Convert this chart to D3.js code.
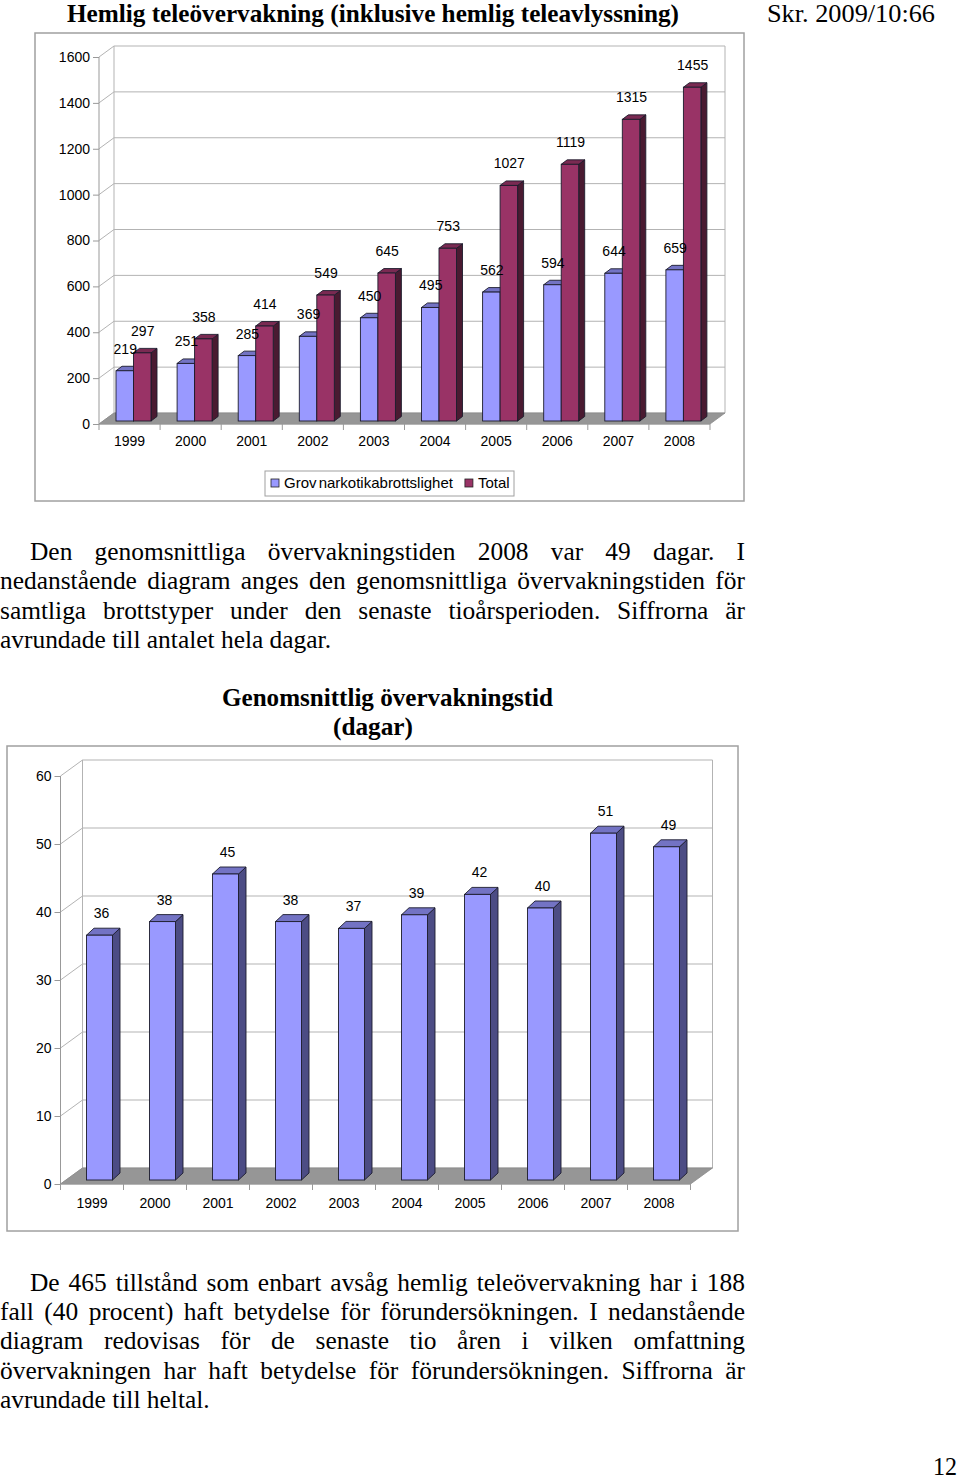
<!DOCTYPE html>
<html>
<head>
<meta charset="utf-8">
<script src="https://cdn.jsdelivr.net/npm/d3@7"></script>
<style>
  html, body { margin: 0; padding: 0; background: #fff; }
  svg { display: block; }
</style>
</head>
<body>
<svg id="page" width="960" height="1479"></svg>
<script>
// ---------- DATA ----------
const years = ["1999","2000","2001","2002","2003","2004","2005","2006","2007","2008"];
const grovValues = [219, 251, 285, 369, 450, 495, 562, 594, 644, 659];
const totalValues = [297, 358, 414, 549, 645, 753, 1027, 1119, 1315, 1455];
const ticks1 = [0, 200, 400, 600, 800, 1000, 1200, 1400, 1600];
const seriesNames = ["Grov narkotikabrottslighet", "Total"];
const daysValues = [36, 38, 45, 38, 37, 39, 42, 40, 51, 49];
const ticks2 = [0, 10, 20, 30, 40, 50, 60];

const headerTitle = "Hemlig teleövervakning (inklusive hemlig teleavlyssning)";
const headerRef = "Skr. 2009/10:66";
const para1 = [
  "Den genomsnittliga övervakningstiden 2008 var 49 dagar. I",
  "nedanstående diagram anges den genomsnittliga övervakningstiden för",
  "samtliga brottstyper under den senaste tioårsperioden. Siffrorna är",
  "avrundade till antalet hela dagar."
];
const chart2Title = ["Genomsnittlig övervakningstid", "(dagar)"];
const para2 = [
  "De 465 tillstånd som enbart avsåg hemlig teleövervakning har i 188",
  "fall (40 procent) haft betydelse för förundersökningen. I nedanstående",
  "diagram redovisas för de senaste tio åren i vilken omfattning",
  "övervakningen har haft betydelse för förundersökningen. Siffrorna är",
  "avrundade till heltal."
];
const pageNumber = "12";

// ---------- STYLE ----------
const SERIF = "'Liberation Serif','Times New Roman',serif";
const SANS = "'Liberation Sans',Arial,sans-serif";
const blue = {face: "#9999ff", top: "#7373c4", side: "#4c4c84"};
const red = {face: "#993366", top: "#7a2a52", side: "#4a1a31"};
const gridColor = "#b3b3b3";
const floorColor = "#969696";

const svg = d3.select("#page");

// ---------- TEXT HELPERS ----------
function measure(text, size, weight) {
  const t = svg.append("text").attr("font-family", SERIF).attr("font-size", size)
    .attr("font-weight", weight).text(text);
  const w = t.node().getComputedTextLength();
  t.remove();
  return w;
}
const PSIZE = 25;
// horizontal condensation factor taken from the last (non-justified) line of paragraph 1
const sx = 331 / measure(para1[3], PSIZE, "normal");

function textLine(str, x0, x1, baseline, justify, size, weight) {
  const words = str.split(" ");
  const widths = words.map(w => measure(w, size, weight) * sx);
  const total = d3.sum(widths);
  const space = measure("a b", size, weight) - measure("ab", size, weight);
  const gap = justify && words.length > 1 ? (x1 - x0 - total) / (words.length - 1) : space * sx;
  let x = x0;
  words.forEach((w, i) => {
    svg.append("text").attr("x", x).attr("y", baseline)
      .attr("font-family", SERIF).attr("font-size", size).attr("font-weight", weight)
      .attr("textLength", widths[i]).attr("lengthAdjust", "spacingAndGlyphs")
      .attr("fill", "#000").text(w);
    x += widths[i] + gap;
  });
}
function fitText(str, x0, width, baseline, size, weight) {
  svg.append("text").attr("x", x0).attr("y", baseline)
    .attr("font-family", SERIF).attr("font-size", size).attr("font-weight", weight)
    .attr("textLength", width).attr("lengthAdjust", "spacingAndGlyphs").text(str);
}

// ---------- HEADER ----------
fitText(headerTitle, 67, 612, 22, 25, "bold");
fitText(headerRef, 767, 168, 22, 25, "normal");

// ---------- PARAGRAPHS ----------
para1.forEach((l, i) => textLine(l, i === 0 ? 30 : 0, 745, 560 + i * 29.4, i < para1.length - 1, PSIZE, "normal"));
para2.forEach((l, i) => textLine(l, i === 0 ? 30 : 0, 745, 1291 + i * 29.2, i < para2.length - 1, PSIZE, "normal"));
fitText(pageNumber, 933, 24, 1475, PSIZE, "normal");
fitText(chart2Title[0], 222, 331, 706, 25, "bold");
fitText(chart2Title[1], 333, 80, 735, 25, "bold");

// ---------- 3D BAR ----------
function bar3d(g, x, yTop, yBase, w, ddx, ddy, c) {
  const st = "#1c1c2c";
  g.append("polygon")
    .attr("points", [[x + w, yTop], [x + w + ddx, yTop + ddy], [x + w + ddx, yBase + ddy], [x + w, yBase]].join(" "))
    .attr("fill", c.side).attr("stroke", st).attr("stroke-width", 0.9).attr("stroke-linejoin", "round");
  g.append("polygon")
    .attr("points", [[x, yTop], [x + ddx, yTop + ddy], [x + w + ddx, yTop + ddy], [x + w, yTop]].join(" "))
    .attr("fill", c.top).attr("stroke", st).attr("stroke-width", 0.9).attr("stroke-linejoin", "round");
  g.append("rect").attr("x", x).attr("y", yTop).attr("width", w).attr("height", yBase - yTop)
    .attr("fill", c.face).attr("stroke", st).attr("stroke-width", 0.9);
}

// ---------- 3D FRAME (walls, floor, axes) ----------
function frame3d(cfg, x, y, ticks) {
  const g = svg.append("g");
  const [x0, x1] = x.range();
  const yb = y.range()[0], yt = y.range()[1];
  const {dx, dy} = cfg;
  // outer border
  g.append("rect").attr("x", cfg.fx).attr("y", cfg.fy).attr("width", cfg.fw).attr("height", cfg.fh)
    .attr("fill", "#fff").attr("stroke", "#a0a0a0").attr("stroke-width", 1.5);
  // back wall gridlines
  ticks.forEach(t => {
    const yy = y(t) + dy;
    g.append("line").attr("x1", x0 + dx).attr("x2", x1 + dx).attr("y1", yy).attr("y2", yy)
      .attr("stroke", gridColor).attr("stroke-width", 1);
    g.append("line").attr("x1", x0).attr("x2", x0 + dx).attr("y1", y(t)).attr("y2", yy)
      .attr("stroke", gridColor).attr("stroke-width", 1);
  });
  // wall edges
  g.append("line").attr("x1", x0 + dx).attr("x2", x0 + dx).attr("y1", yt + dy).attr("y2", yb + dy)
    .attr("stroke", gridColor);
  g.append("line").attr("x1", x1 + dx).attr("x2", x1 + dx).attr("y1", yt + dy).attr("y2", yb + dy)
    .attr("stroke", gridColor);
  g.append("line").attr("x1", x0).attr("x2", x0).attr("y1", yt).attr("y2", yb)
    .attr("stroke", "#999");
  // floor
  g.append("polygon").attr("points", [[x0, yb], [x1, yb], [x1 + dx, yb + dy], [x0 + dx, yb + dy]].join(" "))
    .attr("fill", floorColor).attr("stroke", "#8a8a8a").attr("stroke-width", 0.8);
  // y axis ticks and labels
  const ya = d3.axisLeft(y).tickValues(ticks).tickFormat(d3.format("d")).tickSize(6).tickPadding(3);
  const yg = g.append("g").attr("transform", `translate(${x0},0)`).call(ya);
  yg.select(".domain").remove();
  yg.selectAll(".tick line").attr("stroke", "#999");
  yg.selectAll(".tick text").attr("font-family", SANS).attr("font-size", 14).attr("fill", "#000");
  // x axis: front edge, boundary ticks, labels
  g.append("line").attr("x1", x0).attr("x2", x1).attr("y1", yb).attr("y2", yb).attr("stroke", "#999");
  const bounds = x.domain().map(d => x(d)).concat([x1]);
  bounds.forEach(b => g.append("line").attr("x1", b).attr("x2", b).attr("y1", yb).attr("y2", yb + 6)
    .attr("stroke", "#999"));
  const xa = d3.axisBottom(x).tickSize(0).tickPadding(cfg.xPad);
  const xg = g.append("g").attr("transform", `translate(0,${yb})`).call(xa);
  xg.select(".domain").remove();
  xg.selectAll(".tick text").attr("font-family", SANS).attr("font-size", 14).attr("fill", "#000");
  return g;
}

// ---------- CHART 1 ----------
const C1 = {fx: 35, fy: 33, fw: 709, fh: 468, dx: 15, dy: -11, xPad: 12};
const x1s = d3.scaleBand().domain(years).range([99, 710]);
const y1s = d3.scaleLinear().domain([0, 1600]).range([424, 57]);
frame3d(C1, x1s, y1s, ticks1);
const sub1 = d3.scaleBand().domain([0, 1]).range([0, 35]);
const bars1 = svg.append("g").attr("transform", "translate(3.5,-3)");
const series1 = [grovValues, totalValues];
const cols1 = [blue, red];
years.forEach((yr, i) => {
  series1.forEach((vals, s) => {
    const bx = x1s(yr) + 13.5 + sub1(s);
    bar3d(bars1, bx, y1s(vals[i]), y1s(0), sub1.bandwidth(), 6, -4.5, cols1[s]);
  });
});
years.forEach((yr, i) => {
  series1.forEach((vals, s) => {
    const cx = x1s(yr) + 13.5 + sub1(s) + sub1.bandwidth() / 2 + 3.5 - 3;
    bars1.append("text").attr("x", cx).attr("y", y1s(vals[i]) - 17)
      .attr("text-anchor", "middle").attr("font-family", SANS).attr("font-size", 14)
      .text(vals[i]);
  });
});
// legend
const lg = svg.append("g");
lg.append("rect").attr("x", 265).attr("y", 471).attr("width", 249).attr("height", 25)
  .attr("fill", "#fff").attr("stroke", "#a0a0a0").attr("stroke-width", 1);
let lx = 271;
seriesNames.forEach((n, s) => {
  lg.append("rect").attr("x", lx).attr("y", 479).attr("width", 8).attr("height", 8)
    .attr("fill", cols1[s].face).attr("stroke", "#222").attr("stroke-width", 0.8);
  const t = lg.append("text").attr("x", lx + 13).attr("y", 488).attr("font-family", SANS)
    .attr("font-size", 15).text(n);
  if (s === 0) t.attr("word-spacing", -2);
  lx += 13 + t.node().getComputedTextLength() + 12;
});

// ---------- CHART 2 ----------
const C2 = {fx: 7, fy: 746, fw: 731, fh: 485, dx: 22, dy: -16, xPad: 14};
const x2s = d3.scaleBand().domain(years).range([60.5, 690.5]);
const y2s = d3.scaleLinear().domain([0, 60]).range([1184, 776]);
frame3d(C2, x2s, y2s, ticks2);
const bars2 = svg.append("g").attr("transform", "translate(7.5,-4)");
years.forEach((yr, i) => {
  bar3d(bars2, x2s(yr) + 18.5, y2s(daysValues[i]), y2s(0), 26, 7.5, -7, blue);
});
years.forEach((yr, i) => {
  bars2.append("text").attr("x", x2s(yr) + 18.5 + 13 + 2).attr("y", y2s(daysValues[i]) - 17)
    .attr("text-anchor", "middle").attr("font-family", SANS).attr("font-size", 14)
    .text(daysValues[i]);
});
</script>
</body>
</html>
